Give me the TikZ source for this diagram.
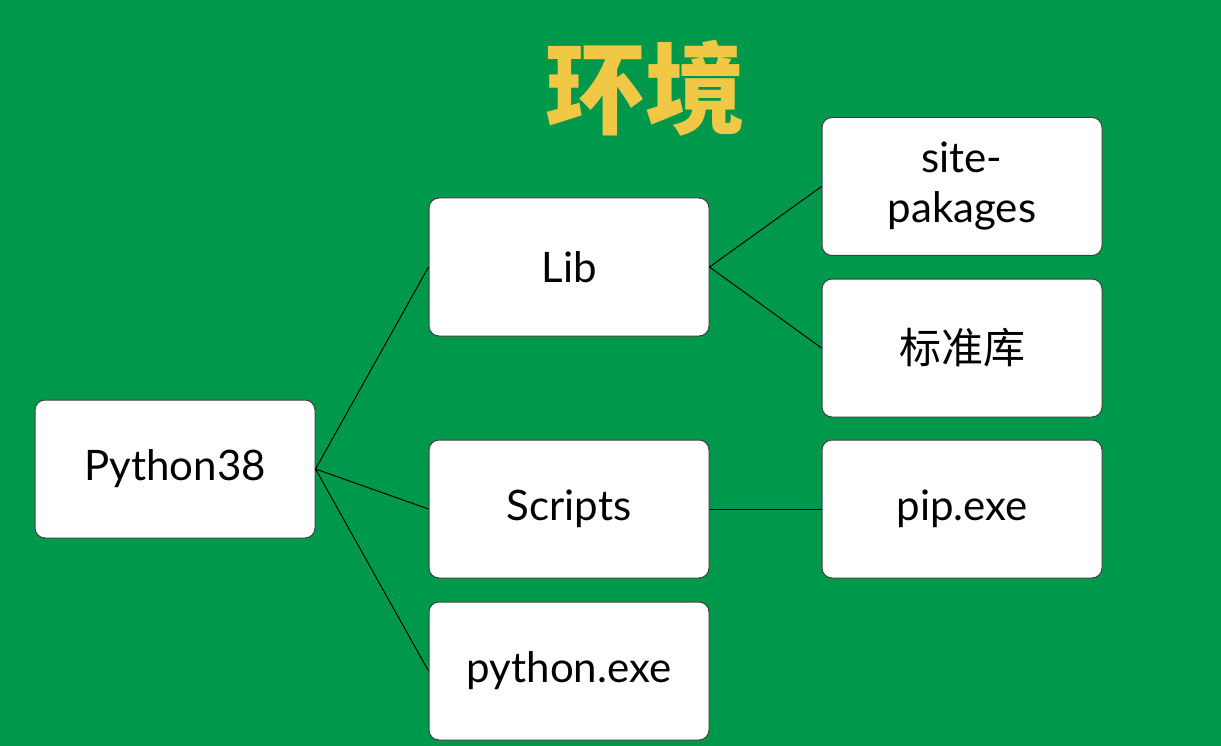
\documentclass[tikz,border=0pt]{standalone}
\usepackage{fontspec}
\setmainfont{Lato}
\newfontfamily\cjk{Noto Sans CJK SC}
\begin{document}
\begin{tikzpicture}[x=1pt,y=-1pt,
  bx/.style={draw=black!75,line width=1pt,fill=white,rounded corners=10pt,minimum width=280pt,minimum height=138pt,inner sep=0pt,align=center,font=\fontsize{42}{50}\selectfont},
  ln/.style={draw=black,line width=1pt}]
\fill[fill={rgb,255:red,0;green,153;blue,76}] (0,0) rectangle (1221,746);
\node[text={rgb,255:red,240;green,200;blue,70},font=\cjk\fontsize{100}{110}\selectfont\bfseries] (t) at (645,88) {环境};
\node[bx] (py) at (175,469) {Python38};
\node[bx] (lib) at (569,267) {Lib};
\node[bx] (sc) at (569,509) {Scripts};
\node[bx] (pe) at (569,671) {python.exe};
\node[bx] (sp) at (962,186.5) {site-\\pakages};
\node[bx,font=\cjk\fontsize{42}{50}\selectfont] (bz) at (962,348) {标准库};
\node[bx] (pip) at (962,509) {pip.exe};
\draw[ln] (py.east) -- (lib.west);
\draw[ln] (py.east) -- (sc.west);
\draw[ln] (py.east) -- (pe.west);
\draw[ln] (lib.east) -- (sp.west);
\draw[ln] (lib.east) -- (bz.west);
\draw[ln] (sc.east) -- (pip.west);
\end{tikzpicture}
\end{document}
